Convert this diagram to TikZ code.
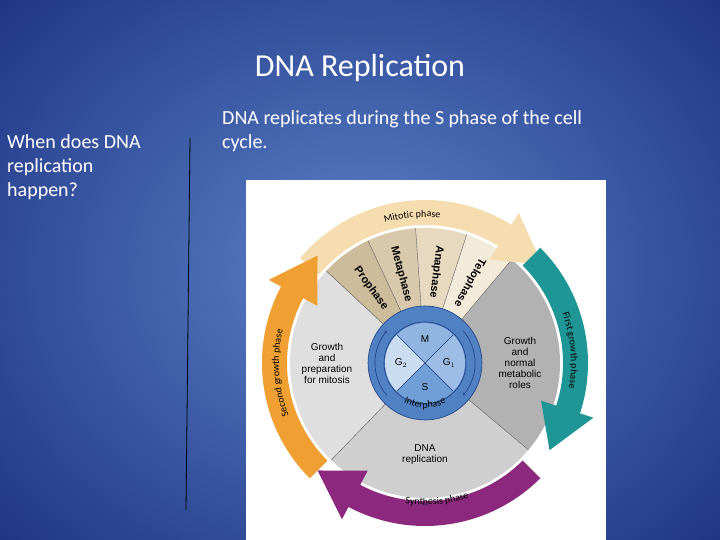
\documentclass[tikz,border=0pt]{standalone}
\usepackage{fontspec}
\setmainfont{Carlito}
\newfontfamily\arialf{Liberation Sans}
\usetikzlibrary{decorations.text,calc}
\definecolor{bgin}{RGB}{90,130,200}
\definecolor{bgout}{RGB}{30,50,130}
\definecolor{cpro}{RGB}{205,188,156}
\definecolor{cmet}{RGB}{217,201,172}
\definecolor{cana}{RGB}{230,217,192}
\definecolor{ctel}{RGB}{243,235,218}
\definecolor{cmit}{RGB}{246,221,176}
\definecolor{cteal}{RGB}{30,150,150}
\definecolor{cpur}{RGB}{140,40,125}
\definecolor{cora}{RGB}{240,160,50}
\definecolor{ring}{RGB}{80,130,195}
\definecolor{ringd}{RGB}{30,60,130}
\definecolor{qM}{RGB}{143,181,224}
\definecolor{qG}{RGB}{157,189,230}
\definecolor{qS}{RGB}{111,159,214}
\definecolor{qGt}{RGB}{201,220,240}
\begin{document}
\begin{tikzpicture}[x=1pt,y=1pt,
  slidetext/.style={anchor=west,inner sep=0,text=white,font=\fontsize{20}{24}\selectfont,align=left},
  lbl/.style={font=\arialf\fontsize{10}{11}\selectfont,align=center,inner sep=0},
  phase/.style={font=\arialf\bfseries\fontsize{11}{12}\selectfont,inner sep=0}]
\useasboundingbox (0,0) rectangle (720,540);
\shade[inner color=bgin,outer color=bgout] (-150,-150) rectangle (870,690);
\node[text=white,font=\fontsize{32}{38}\selectfont,inner sep=0] (title) at (360,472) {DNA Replication};
\node[slidetext] (q) at (7,373) {When does DNA\\replication\\happen?};
\node[slidetext,anchor=north west] (a) at (222,430) {DNA replicates during the S phase of the cell\\cycle.};
\coordinate (lt) at (190,402); \coordinate (lb) at (186,30);
\draw[black,line width=0.8pt] (lt) -- (lb);
\fill[white] (246,0) rectangle (606,360);
\begin{scope}
\clip (247,0) rectangle (605,359);
\coordinate (c) at (425,177);
\def\R{135}
\fill[gray!25] (c) -- ++(137:\R) arc[start angle=137,end angle=226,radius=\R] -- cycle;
\fill[gray!60] (c) -- ++(-40:\R) arc[start angle=-40,end angle=50,radius=\R] -- cycle;
\fill[gray!38] (c) -- ++(226:\R) arc[start angle=226,end angle=320,radius=\R] -- cycle;
\fill[cpro] (c) -- ++(115:\R) arc[start angle=115,end angle=137,radius=\R] -- cycle;
\fill[cmet] (c) -- ++(94:\R) arc[start angle=94,end angle=115,radius=\R] -- cycle;
\fill[cana] (c) -- ++(72:\R) arc[start angle=72,end angle=94,radius=\R] -- cycle;
\fill[ctel] (c) -- ++(50:\R) arc[start angle=50,end angle=72,radius=\R] -- cycle;
\foreach \a in {137,226,320,50,72,94,115} \draw[gray!70!black,line width=0.4pt] (c) -- ++(\a:\R);
\fill[cmit] (c) ++(140:163) arc[start angle=140,end angle=58,radius=163] -- ++(58:14) -- ($(c)+(40:153)$) -- ($(c)+(58:122)$) -- ($(c)+(58:138)$) arc[start angle=58,end angle=140,radius=138] -- cycle;
\fill[cteal] (c) ++(45:163) arc[start angle=45,end angle=-18,radius=163] -- ++(-18:14) -- ($(c)+(-35:152)$) -- ($(c)+(-18:122)$) -- ($(c)+(-18:138)$) arc[start angle=-18,end angle=45,radius=138] -- cycle;
\fill[cpur] (c) ++(-45:163) arc[start angle=-45,end angle=-118,radius=163] -- ++(-118:14) -- ($(c)+(-135:152)$) -- ($(c)+(-118:122)$) -- ($(c)+(-118:138)$) arc[start angle=-118,end angle=-45,radius=138] -- cycle;
\fill[cora] (c) ++(-135:163) arc[start angle=-135,end angle=-208,radius=163] -- ++(152:14) -- ($(c)+(135:152)$) -- ($(c)+(152:122)$) -- ($(c)+(152:138)$) arc[start angle=152,end angle=225,radius=138] -- cycle;
\begin{scope}[font=\arialf\fontsize{9}{10}\selectfont]
\path[decorate,decoration={text along path,text align=center,text={Mitotic phase}}] (c) ++(125:146) arc[start angle=125,end angle=65,radius=146];
\path[decorate,decoration={text along path,text align=center,text={First growth phase}}] (c) ++(35:146) arc[start angle=35,end angle=-25,radius=146];
\path[decorate,decoration={text along path,text align=center,text={Synthesis phase}}] (c) ++(-115:142) arc[start angle=-115,end angle=-55,radius=142];
\path[decorate,decoration={text along path,text align=center,text={Second growth phase}}] (c) ++(218:146) arc[start angle=218,end angle=150,radius=146];
\end{scope}
\fill[ring] (c) circle (57);
\draw[ringd,line width=0.6pt] (c) circle (57) (c) circle (41);
\draw[ringd,line width=0.6pt,->] (c) ++(40:50) arc[start angle=40,end angle=-40,radius=50];
\draw[ringd,line width=0.6pt,->] (c) ++(220:50) arc[start angle=220,end angle=140,radius=50];
\fill[qM] (c) -- ++(45:40) arc[start angle=45,end angle=135,radius=40] -- cycle;
\fill[qG] (c) -- ++(-45:40) arc[start angle=-45,end angle=45,radius=40] -- cycle;
\fill[qS] (c) -- ++(225:40) arc[start angle=225,end angle=315,radius=40] -- cycle;
\fill[qGt] (c) -- ++(135:40) arc[start angle=135,end angle=225,radius=40] -- cycle;
\draw[ringd,line width=0.5pt] (c) -- ++(45:40) (c) -- ++(135:40) (c) -- ++(225:40) (c) -- ++(315:40);
\begin{scope}[font=\arialf\fontsize{8}{9}\selectfont]
\path[decorate,decoration={text along path,text align=center,text={Interphase}}] (c) ++(-140:45) arc[start angle=-140,end angle=-40,radius=45];
\end{scope}
\node[lbl] (nM) at ($(c)+(90:24)$) {M};
\node[lbl] (nG1) at ($(c)+(0:24)$) {G$_1$};
\node[lbl] (nS) at ($(c)+(270:24)$) {S};
\node[lbl] (nG2) at ($(c)+(180:24)$) {G$_2$};
\node[lbl] (g2t) at ($(c)+(180:98)$) {Growth\\and\\preparation\\for mitosis};
\node[lbl] (g1t) at ($(c)+(0:95)$) {Growth\\and\\normal\\metabolic\\roles};
\node[lbl] (st) at ($(c)+(270:92)$) {DNA\\replication};
\node[phase,rotate=-54] (pro) at ($(c)+(126:92)$) {Prophase};
\node[phase,rotate=-75] (met) at ($(c)+(105:92)$) {Metaphase};
\node[phase,rotate=-97] (ana) at ($(c)+(83:92)$) {Anaphase};
\node[phase,rotate=-119] (tel) at ($(c)+(61:92)$) {Telophase};
\end{scope}
\end{tikzpicture}
\end{document}
